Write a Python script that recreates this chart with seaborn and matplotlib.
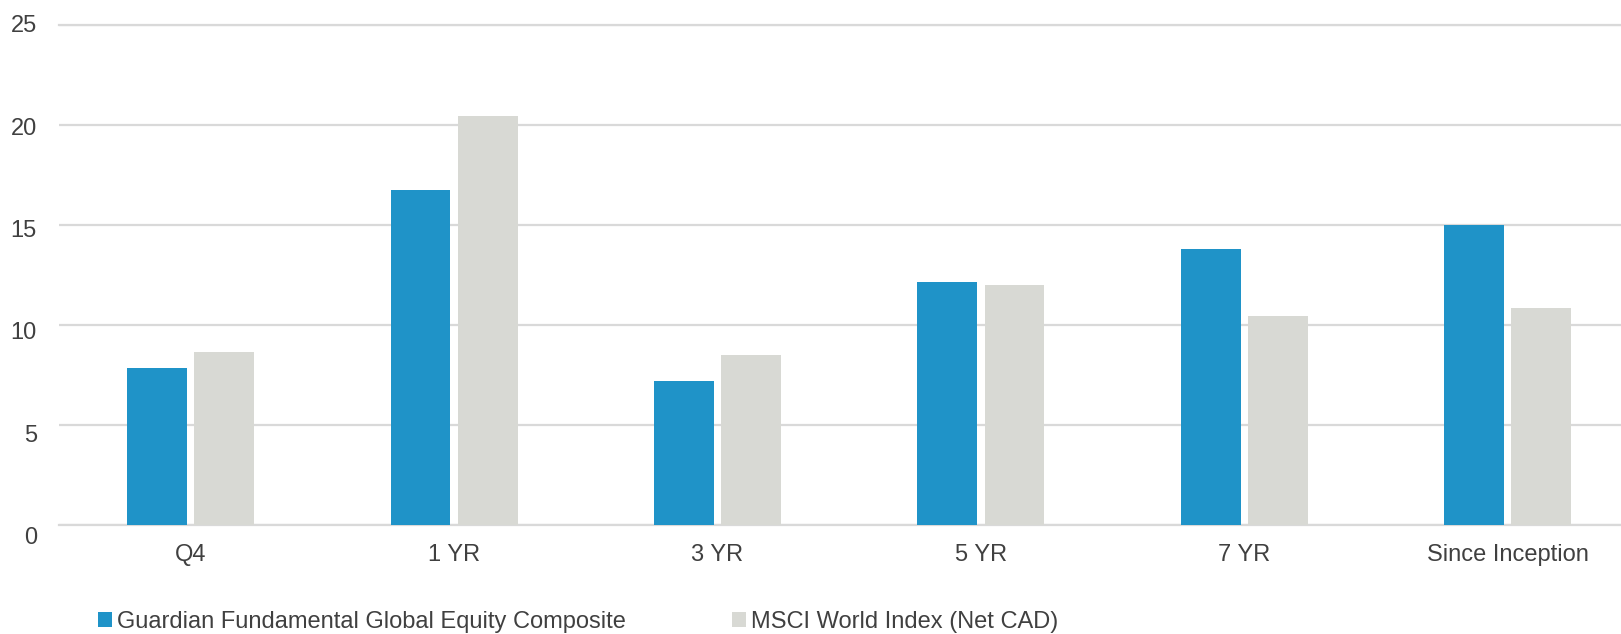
import matplotlib
matplotlib.use("Agg")
import matplotlib.pyplot as plt
import matplotlib.transforms as mtransforms
import seaborn as sns
import pandas as pd

# Annualized / period returns (%)
periods = ["Q4", "1 YR", "3 YR", "5 YR", "7 YR", "Since Inception"]
fund_returns = [7.85, 16.75, 7.2, 12.15, 13.8, 15.0]
index_returns = [8.65, 20.45, 8.5, 12.0, 10.45, 10.85]
series_names = ["Guardian Fundamental Global Equity Composite",
                "MSCI World Index (Net CAD)"]
y_ticks = [0, 5, 10, 15, 20, 25]

df = pd.DataFrame({
    "period": periods * 2,
    "return": fund_returns + index_returns,
    "series": [series_names[0]] * len(periods) + [series_names[1]] * len(periods),
})

sns.set_theme(style="white")
plt.rcParams["font.family"] = ["Liberation Sans", "DejaVu Sans"]

W, H = 1621, 634
fig = plt.figure(figsize=(W / 100, H / 100), dpi=100)
ax = fig.add_axes([59 / W, 1 - 525 / H, 1 - 59 / W, 500 / H])

sns.barplot(
    data=df, x="period", y="return", hue="series",
    order=periods, hue_order=series_names,
    palette=["#1F93C8", "#D8D9D4"], saturation=1,
    width=0.51, gap=0.11, linewidth=0, edgecolor="none",
    ax=ax, zorder=3,
)

grid_col = "#D9D9D9"
text_col = "#404040"

ax.set_ylim(0, 25)
ax.set_xlim(-0.5, 5.43)
ax.set_yticks(y_ticks)
ax.yaxis.grid(True, color=grid_col, linewidth=1.6, zorder=0)
ax.set_axisbelow(True)
for side in ("left", "right"):
    ax.spines[side].set_visible(False)
for side in ("top", "bottom"):
    ax.spines[side].set_color(grid_col)
    ax.spines[side].set_linewidth(1.6)

ax.set_xlabel("")
ax.set_ylabel("")
ax.tick_params(axis="both", length=0, labelsize=17, labelcolor=text_col)
ax.tick_params(axis="x", pad=14)
ax.tick_params(axis="y", pad=16)

# value labels sit a little lower the further down the axis they are
for tick, val in zip(ax.yaxis.get_major_ticks(), y_ticks):
    shift = 1.0 - (25 - val) / 5 * 2.3
    off = mtransforms.ScaledTranslation(0, shift / 100, fig.dpi_scale_trans)
    tick.label1.set_transform(tick.label1.get_transform() + off)

sns.move_legend(
    ax, "center left",
    bbox_to_anchor=(98 / W, 1 - 622 / H), bbox_transform=fig.transFigure,
    ncol=2, frameon=False, title=None, fontsize=17, labelcolor=text_col,
    handlelength=0.6, handleheight=0.6, handletextpad=0.2,
    columnspacing=4.5, borderpad=0, borderaxespad=0,
)

fig.savefig("out.png", dpi=100, facecolor="white")
